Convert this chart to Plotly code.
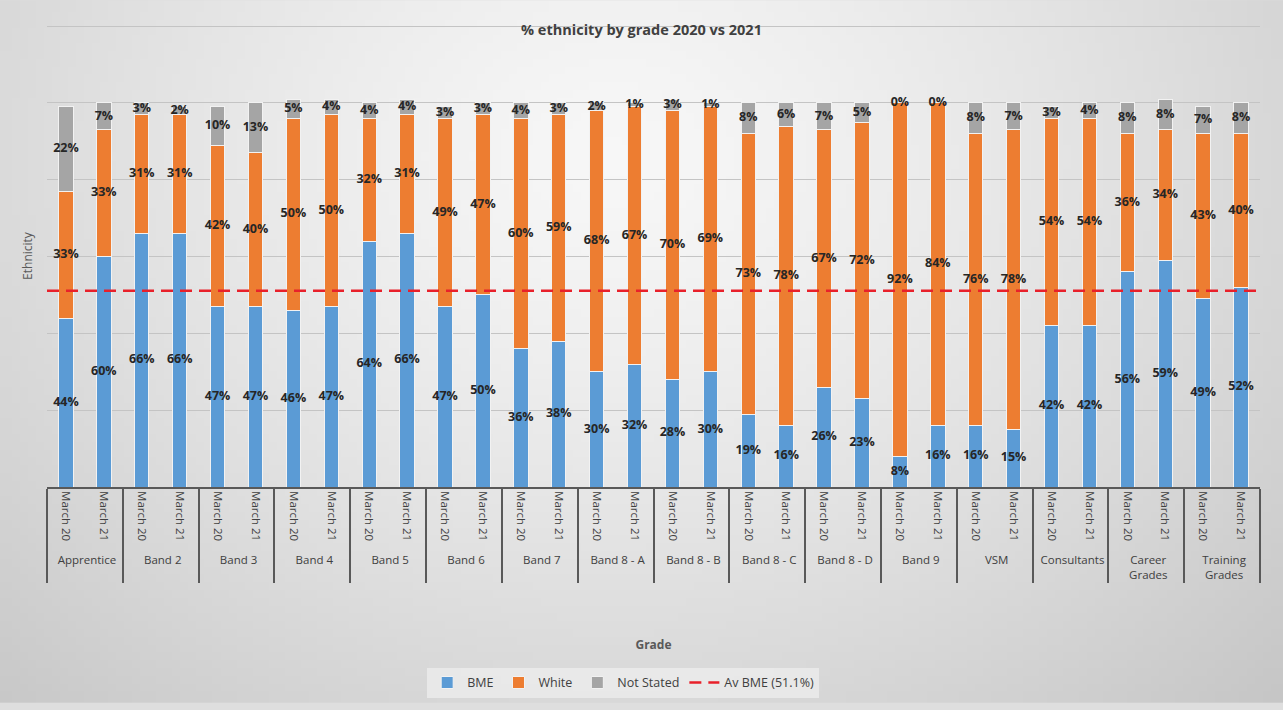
import base64, struct, zlib
import plotly.graph_objects as go

# ---------------- data ----------------
grades = ["Apprentice", "Band 2", "Band 3", "Band 4", "Band 5", "Band 6", "Band 7",
          "Band 8 - A", "Band 8 - B", "Band 8 - C", "Band 8 - D", "Band 9", "VSM",
          "Consultants", "Career<br>Grades", "Training<br>Grades"]
periods = ["March 20", "March 21"]

bme = [44, 60, 66, 66, 47, 47, 46, 47, 64, 66, 47, 50, 36, 38, 30, 32,
       28, 30, 19, 16, 26, 23, 8, 16, 16, 15, 42, 42, 56, 59, 49, 52]
white = [33, 33, 31, 31, 42, 40, 50, 50, 32, 31, 49, 47, 60, 59, 68, 67,
         70, 69, 73, 78, 67, 72, 92, 84, 76, 78, 54, 54, 36, 34, 43, 40]
not_stated = [22, 7, 3, 2, 10, 13, 5, 4, 4, 4, 3, 3, 4, 3, 2, 1,
              3, 1, 8, 6, 7, 5, 0, 0, 8, 7, 3, 4, 8, 8, 7, 8]
av_bme = 51.1

# multicategory x
x_outer = [g for g in grades for _ in periods]
x_inner = [p for _ in grades for p in periods]
X = [x_outer, x_inner]
n = len(x_inner)

# ---------------- background gradient (decoration) ----------------
def gradient_png(w, h):
    raw = bytearray()
    for j in range(h):
        raw.append(0)
        for i in range(w):
            dx = (i / (w - 1) - 0.48) / 0.62
            dy = (j / (h - 1) - 0.22) / 0.95
            d = min((dx * dx + dy * dy) ** 0.5, 1.2)
            v = int(round(247 - 40 * d ** 1.3))
            raw += bytes((v, v, v))
    def chunk(t, data):
        c = struct.pack(">I", len(data)) + t + data
        return c + struct.pack(">I", zlib.crc32(t + data) & 0xffffffff)
    png = b"\x89PNG\r\n\x1a\n" + chunk(b"IHDR", struct.pack(">IIBBBBB", w, h, 8, 2, 0, 0, 0))
    png += chunk(b"IDAT", zlib.compress(bytes(raw), 9)) + chunk(b"IEND", b"")
    return "data:image/png;base64," + base64.b64encode(png).decode()

bg = gradient_png(160, 90)

# ---------------- figure ----------------
C_BME, C_WHITE, C_NS = "#5B9BD5", "#ED7D31", "#A5A5A5"
FONT = "Open Sans"

fig = go.Figure()
for name, vals, col in [("BME", bme, C_BME), ("White", white, C_WHITE), ("Not Stated", not_stated, C_NS)]:
    fig.add_trace(go.Bar(x=X, y=vals, name=name, marker=dict(color=col, line=dict(color="#F2F2F2", width=1))))

# data labels centered in each segment
bases = [0] * n
for vals in (bme, white, not_stated):
    centers = [b + v / 2 for b, v in zip(bases, vals)]
    fig.add_trace(go.Scatter(x=X, y=centers, mode="text", text=[f"{v}%" for v in vals],
                             textfont=dict(family=FONT, size=12.5, color="#262626", weight="bold"),
                             showlegend=False, hoverinfo="skip"))
    bases = [b + v for b, v in zip(bases, vals)]

# average line
fig.add_trace(go.Scatter(x=[0, 1], y=[av_bme, av_bme], xaxis="x2", mode="lines",
                         name="Av BME (51.1%)",
                         line=dict(color="#E8202A", width=2.5, dash="12px,7px")))

fig.update_layout(
    width=1283, height=710,
    margin=dict(l=47, r=23, t=25, b=218),
    paper_bgcolor="#DEDEDE", plot_bgcolor="rgba(0,0,0,0)",
    images=[dict(source=bg, xref="paper", yref="paper", x=-47/1213, y=1 + 25/467,
                 sizex=1283/1213, sizey=710/467, sizing="stretch", layer="below",
                 xanchor="left", yanchor="top")],
    barmode="stack", bargap=0.62,
    font=dict(family=FONT, color="#404040"),
    title=dict(text="<b>% ethnicity by grade 2020 vs 2021</b>", x=0.5, xanchor="center",
               y=1 - 30/710, yanchor="middle", font=dict(size=14.5, color="#404040")),
    xaxis=dict(type="multicategory", tickangle=90, showline=True, linecolor="#595959", linewidth=1.5,
               range=[-0.5, n - 0.5], autorange=False,
               showdividers=True, dividercolor="#595959", dividerwidth=1.5, ticks="",
               tickfont=dict(size=11.5, color="#404040"), showgrid=False,
               title=dict(text="<b>Grade</b>", font=dict(size=12, color="#595959"), standoff=60)),
    xaxis2=dict(overlaying="x", range=[0, 1], visible=False, showgrid=False),
    yaxis=dict(range=[0, 120.3], tick0=0, dtick=20, showticklabels=False, showgrid=True, gridcolor="#C4C4C4",
               gridwidth=1, zeroline=False, ticks="",
               title=dict(text="Ethnicity", font=dict(size=12, color="#595959"), standoff=10)),
    legend=dict(orientation="h", x=0.475, xanchor="center", y=-(690-492)/467, yanchor="middle",
                bgcolor="rgba(236,236,236,0.8)", font=dict(size=12.5, color="#404040"),
                traceorder="normal", itemwidth=30),
    showlegend=True,
)

fig.write_html("out.html")
